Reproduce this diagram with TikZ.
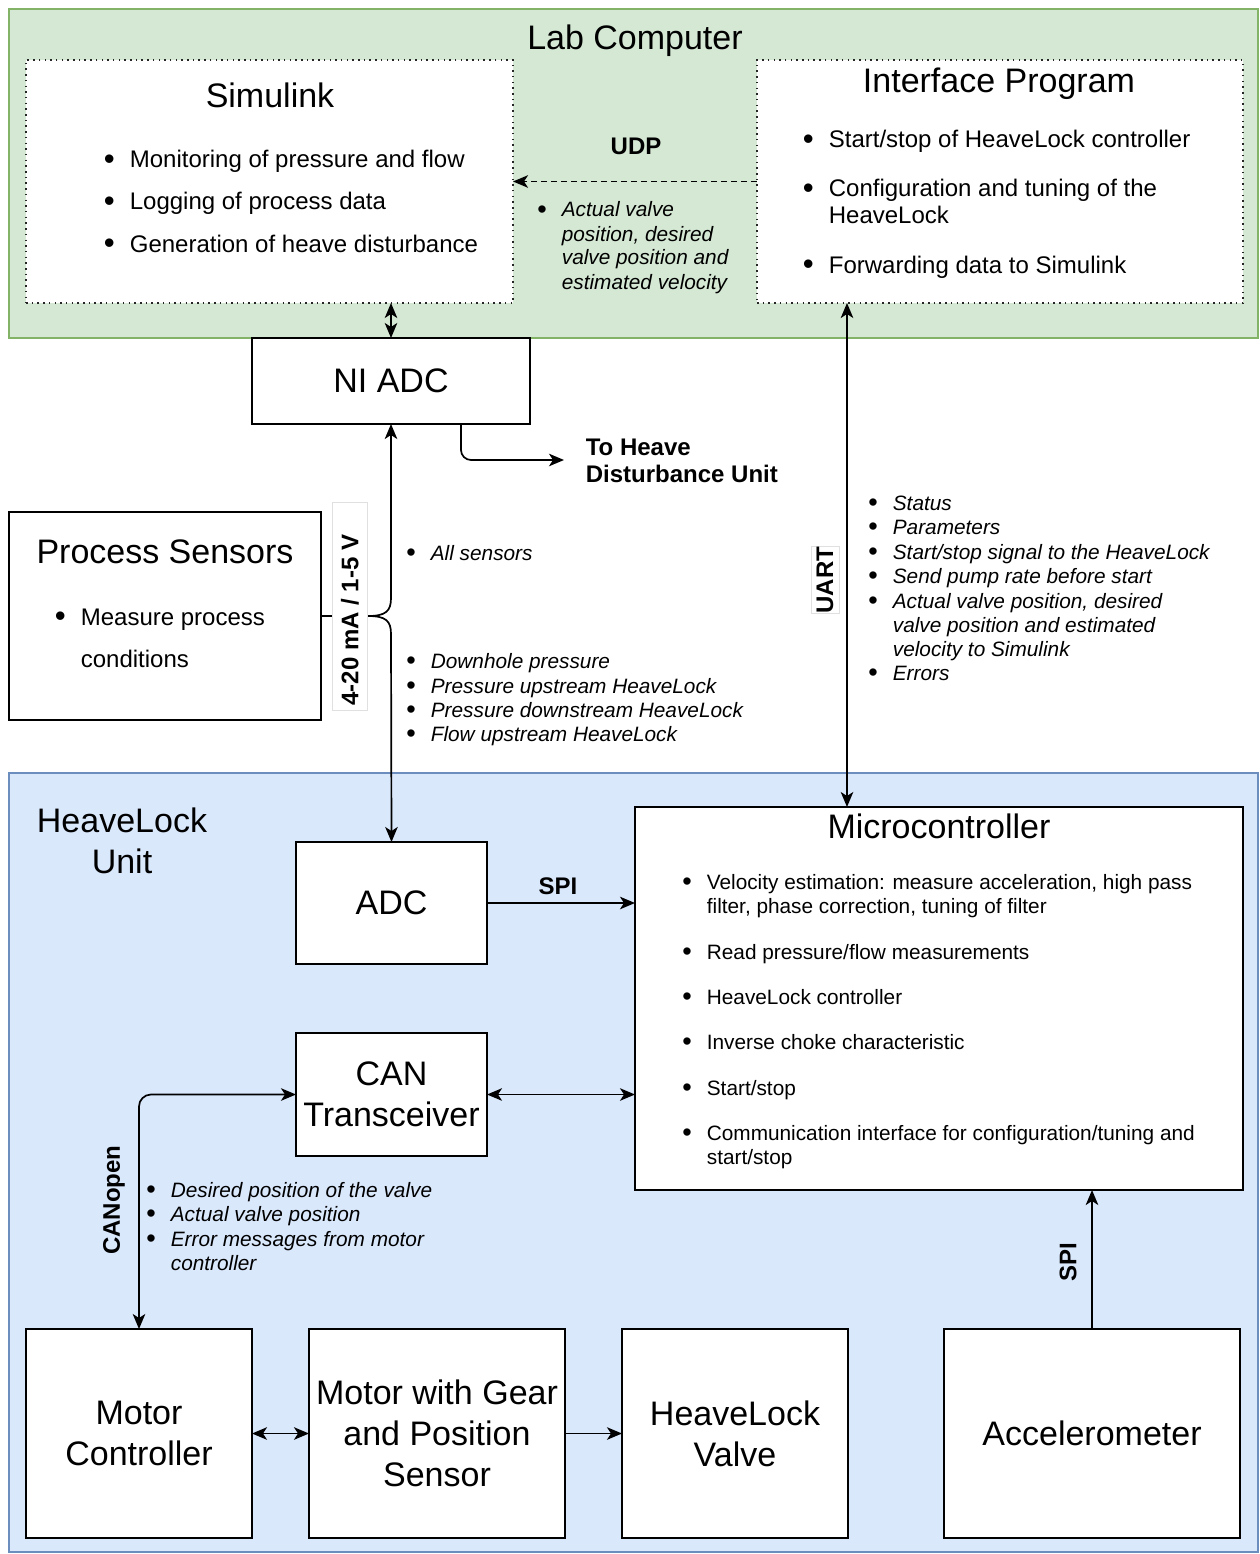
\documentclass[tikz,border=0pt]{standalone}
\usepackage{fontspec}
\setmainfont{Liberation Sans}
\usetikzlibrary{arrows.meta}
\definecolor{gfill}{HTML}{D5E8D4}
\definecolor{gline}{HTML}{82B366}
\definecolor{bfill}{HTML}{DAE8FC}
\definecolor{bline}{HTML}{6C8EBF}
\newcommand\rect[7]{\node[#6, minimum width={#4-#2}, minimum height={#5-#3}, anchor=north west] (#1) at (#2,#3) {#7};}
\newcommand\bitem[5]{\node[anchor=base west,inner sep=0pt,#4] (#1) at (#2,#3) {\llap{\upshape\raisebox{-0.08em}{\scalebox{1.3}{\textbullet}}\hspace{15pt}}#5};}
\newcommand\btext[5]{\node[anchor=base west,inner sep=0pt,#4] (#1) at (#2,#3) {#5};}
\begin{document}
\begin{tikzpicture}[x=1pt,y=-1pt,line width=1.7pt,
  >={Stealth[length=15pt,width=12.5pt,inset=4pt]},
  cont/.style={draw, outer sep=0pt, inner sep=0pt, line width=1.5pt},
  gbox/.style={cont, draw=gline, fill=gfill},
  bbox/.style={cont, draw=bline, fill=bfill},
  dbox/.style={draw=black!85, fill=white, line width=1.6pt, dash pattern=on 1.5pt off 4.2pt, outer sep=0pt, inner sep=0pt},
  blk/.style={draw=black, fill=white, line width=1.7pt, outer sep=0pt, inner sep=0pt, align=center, font=\fontsize{34}{41}\selectfont},
  big/.style={font=\fontsize{34}{41}\selectfont, inner sep=0pt},
  med/.style={font=\fontsize{24}{28}\selectfont},
  sml/.style={font=\fontsize{20.8}{24.4}\selectfont\itshape},
  smu/.style={font=\fontsize{20.8}{24.4}\selectfont},
  lbl/.style={font=\fontsize{24}{27}\selectfont\bfseries, inner sep=0pt},
  tagbox/.style={fill=white, draw=black!12, line width=0.8pt, inner sep=0pt, outer sep=0pt}]
\useasboundingbox (0,0) rectangle (1259,1554);
\fill[white] (0,0) rectangle (1259,1554);
% containers
\rect{lab}{9}{9}{1258}{338}{gbox}{}
\rect{hlu}{9}{773}{1258}{1552}{bbox}{}
\node[big, anchor=base] (labt) at (635,50) {Lab Computer};
\node[big, anchor=base] (hlut1) at (122,832) {HeaveLock};
\node[big, anchor=base] (hlut2) at (122,873) {Unit};
% lab computer contents
\rect{sim}{26}{60}{513}{303}{dbox}{}
\rect{ip}{757}{60}{1243}{303}{dbox}{}
\node[big, anchor=base] (simt) at (270,108) {Simulink};
\node[big, anchor=base] (ipt) at (999,93) {Interface Program};
\bitem{s1}{129}{168}{med}{Monitoring of pressure and flow}
\bitem{s2}{129}{210}{med}{Logging of process data}
\bitem{s3}{129}{252}{med}{Generation of heave disturbance}
\bitem{i1}{828}{148}{med}{Start/stop of HeaveLock controller}
\bitem{i2}{828}{197}{med}{Configuration and tuning of the}
\btext{i3}{828}{224}{med}{HeaveLock}
\bitem{i4}{828}{273}{med}{Forwarding data to Simulink}
\node[lbl, anchor=base] (udp) at (636,155) {UDP};
\bitem{u1}{561}{217}{sml}{Actual valve}
\btext{u2}{561}{241}{sml}{position, desired}
\btext{u3}{561}{265}{sml}{valve position and}
\btext{u4}{561}{289}{sml}{estimated velocity}
% middle blocks
\rect{niadc}{252}{338}{530}{424}{blk}{NI ADC}
\rect{ps}{9}{512}{321}{720}{blk}{}
\node[big, anchor=base] (pst) at (165,563) {Process Sensors};
\bitem{p1}{80}{625}{med}{Measure process}
\btext{p2}{80}{667}{med}{conditions}
\node[lbl, anchor=base west] (th1) at (585,455) {To Heave};
\node[lbl, anchor=base west] (th2) at (585,482) {Disturbance Unit};
\coordinate (thc) at (564,460);
\bitem{a1}{430}{560}{sml}{All sensors}
\bitem{d1}{430}{668}{sml}{Downhole pressure}
\bitem{d2}{430}{693}{sml}{Pressure upstream HeaveLock}
\bitem{d3}{430}{717}{sml}{Pressure downstream HeaveLock}
\bitem{d4}{430}{741}{sml}{Flow upstream HeaveLock}
\bitem{r1}{892}{510}{sml}{Status}
\bitem{r2}{892}{534}{sml}{Parameters}
\bitem{r3}{892}{559}{sml}{Start/stop signal to the HeaveLock}
\bitem{r4}{892}{583}{sml}{Send pump rate before start}
\bitem{r5}{892}{608}{sml}{Actual valve position, desired}
\btext{r6}{892}{632}{sml}{valve position and estimated}
\btext{r7}{892}{656}{sml}{velocity to Simulink}
\bitem{r8}{892}{680}{sml}{Errors}
% heavelock unit blocks
\rect{adc}{296}{842}{487}{964}{blk}{ADC}
\rect{micro}{635}{807}{1243}{1190}{blk}{}
\node[big, anchor=base] (microt) at (939,838) {Microcontroller};
\bitem{m1}{706}{889}{smu}{Velocity estimation: measure acceleration, high pass}
\btext{m2}{706}{913}{smu}{filter, phase correction, tuning of filter}
\bitem{m3}{706}{959}{smu}{Read pressure/flow measurements}
\bitem{m4}{706}{1004}{smu}{HeaveLock controller}
\bitem{m5}{706}{1049}{smu}{Inverse choke characteristic}
\bitem{m6}{706}{1095}{smu}{Start/stop}
\bitem{m7}{706}{1140}{smu}{Communication interface for configuration/tuning and}
\btext{m8}{706}{1164}{smu}{start/stop}
\rect{can}{296}{1033}{487}{1156}{blk}{CAN\\Transceiver}
\rect{mc}{26}{1329}{252}{1538}{blk}{Motor\\Controller}
\rect{mg}{309}{1329}{565}{1538}{blk}{Motor with Gear\\and Position\\Sensor}
\rect{hv}{622}{1329}{848}{1538}{blk}{HeaveLock\\Valve}
\rect{acc}{944}{1329}{1240}{1538}{blk}{Accelerometer}
\node[lbl, anchor=base] (spi1) at (558,894) {SPI};
\bitem{c1}{170}{1197}{sml}{Desired position of the valve}
\bitem{c2}{170}{1221}{sml}{Actual valve position}
\bitem{c3}{170}{1246}{sml}{Error messages from motor}
\btext{c4}{170}{1270}{sml}{controller}
% connectors
\draw[<->] (niadc.north |- sim.south) -- (niadc.north);
\draw[->, dash pattern=on 6pt off 4pt] (ip.west) -- (sim.east);
\draw[<->] ([xshift=90pt]ip.south west) -- ([xshift=90pt]ip.south west |- micro.north);
\draw[->, rounded corners=10pt] ([xshift=70pt]niadc.south) |- (thc);
\coordinate (br) at (368,616);
\draw[->] (ps.east |- br) -- (br) .. controls (386,616) and (391,611) .. (391,598) -- (niadc.south);
\draw[->] (br) .. controls (386,616) and (391,621) .. (391,634) -- (adc.north);
\draw[->] (adc.east) -- (adc.east -| micro.west);
\draw[<->] (can.east) -- (can.east -| micro.west);
\draw[<->, rounded corners=12pt] (can.west) -| (mc.north);
\draw[<->] (mc.east) -- (mg.west);
\draw[->] (mg.east) -- (hv.west);
\draw[->] (acc.north) -- (acc.north |- micro.south);
% rotated labels
\node[tagbox, minimum width=35pt, minimum height=208pt] (mabox) at (349.5,606) {};
\node[lbl, rotate=90] (ma) at (350,620) {4-20 mA / 1-5 V};
\node[tagbox, minimum width=28pt, minimum height=67pt] (uartbox) at (825,580) {};
\node[lbl, rotate=90] (uart) at (825,580) {UART};
\node[lbl, rotate=90] (canopen) at (114,1200) {CANopen};
\node[lbl, rotate=90] (spi2) at (1068,1262) {SPI};
\end{tikzpicture}
\end{document}
